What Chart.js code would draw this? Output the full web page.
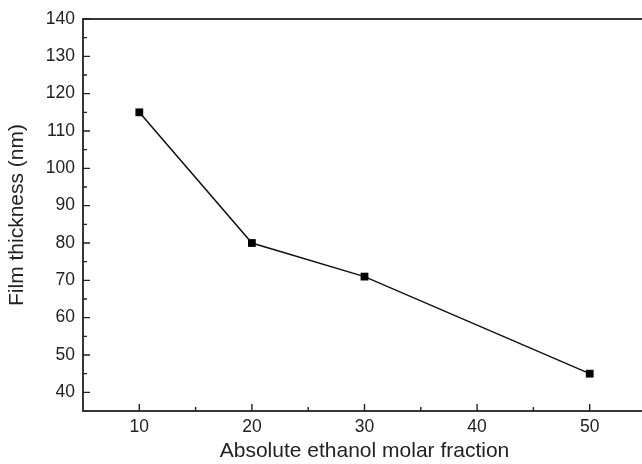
<!DOCTYPE html>
<html>
<head>
<meta charset="utf-8">
<script src="https://cdn.jsdelivr.net/npm/chart.js@4/dist/chart.umd.min.js"></script>
<style>
  html, body { margin: 0; padding: 0; background: #fff; overflow: hidden; }
  #wrap { width: 652px; height: 464px; }
</style>
</head>
<body>
<div id="wrap"><canvas id="chart" width="652" height="464"></canvas></div>
<script>
// data
const ethanolFraction = [10, 20, 30, 50];
const filmThickness = [115, 80, 71, 45];

const xMajorTicks = [10, 20, 30, 40, 50];
const xMinorTicks = [15, 25, 35, 45];
const yMajorTicks = [40, 50, 60, 70, 80, 90, 100, 110, 120, 130, 140];
const yMinorTicks = [45, 55, 65, 75, 85, 95, 105, 115, 125, 135];

const axisColor = '#222';
const fontFamily = '"Liberation Sans", Arial, sans-serif';

// ticks point into the plot, so draw them ourselves along with the frame
const frameAndTicks = {
    id: 'frameAndTicks',
    afterDraw(chart) {
        const ctx = chart.ctx;
        const area = chart.chartArea;
        const xs = chart.scales.x;
        const ys = chart.scales.y;
        ctx.save();
        ctx.strokeStyle = axisColor;
        ctx.lineWidth = 1.8;
        ctx.strokeRect(area.left, area.top, area.right - area.left, area.bottom - area.top);
        ctx.lineWidth = 1.4;
        ctx.beginPath();
        xMajorTicks.forEach(v => {
            const px = xs.getPixelForValue(v);
            ctx.moveTo(px, area.bottom);
            ctx.lineTo(px, area.bottom - 7);
        });
        xMinorTicks.forEach(v => {
            const px = xs.getPixelForValue(v);
            ctx.moveTo(px, area.bottom);
            ctx.lineTo(px, area.bottom - 4);
        });
        yMajorTicks.forEach(v => {
            const py = ys.getPixelForValue(v);
            ctx.moveTo(area.left, py);
            ctx.lineTo(area.left + 7, py);
        });
        yMinorTicks.forEach(v => {
            const py = ys.getPixelForValue(v);
            ctx.moveTo(area.left, py);
            ctx.lineTo(area.left + 4, py);
        });
        ctx.stroke();
        ctx.restore();
    }
};

new Chart(document.getElementById('chart'), {
    type: 'line',
    data: {
        datasets: [{
            data: ethanolFraction.map((x, i) => ({ x: x, y: filmThickness[i] })),
            borderColor: '#111',
            borderWidth: 1.5,
            backgroundColor: '#000',
            pointStyle: 'rect',
            pointRadius: 5.5,
            pointBorderWidth: 0,
            tension: 0
        }]
    },
    options: {
        responsive: false,
        animation: false,
        layout: { padding: { top: 19, right: 6, left: 0, bottom: 0 } },
        plugins: {
            legend: { display: false },
            tooltip: { enabled: false }
        },
        scales: {
            x: {
                type: 'linear',
                min: 5,
                max: 55,
                afterFit(scale) { scale.height = 53; },
                afterBuildTicks(scale) { scale.ticks = xMajorTicks.map(v => ({ value: v })); },
                grid: { display: false, drawTicks: false },
                border: { display: false },
                ticks: {
                    color: '#222',
                    padding: 6,
                    font: { family: fontFamily, size: 17.5 }
                },
                title: {
                    display: true,
                    text: 'Absolute ethanol molar fraction',
                    color: '#222',
                    padding: { top: 0, bottom: 0 },
                    font: { family: fontFamily, size: 21 }
                }
            },
            y: {
                type: 'linear',
                min: 35,
                max: 140,
                afterFit(scale) { scale.width = 83; },
                afterBuildTicks(scale) { scale.ticks = yMajorTicks.map(v => ({ value: v })); },
                grid: { display: false, drawTicks: false },
                border: { display: false },
                ticks: {
                    color: '#222',
                    padding: 8,
                    font: { family: fontFamily, size: 17.5 }
                },
                title: {
                    display: true,
                    text: 'Film thickness (nm)',
                    color: '#222',
                    padding: { top: 5, bottom: 0 },
                    font: { family: fontFamily, size: 21 }
                }
            }
        }
    },
    plugins: [frameAndTicks]
});
</script>
</body>
</html>
